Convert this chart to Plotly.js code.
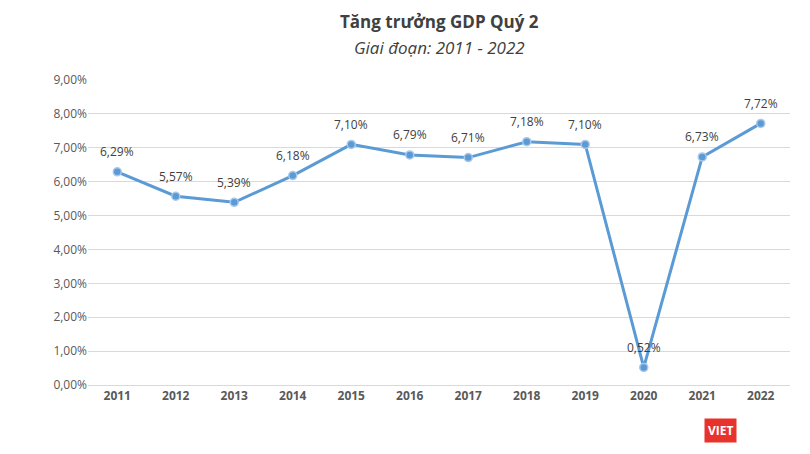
<!DOCTYPE html>
<html><head><meta charset="utf-8">
<script src="https://cdn.plot.ly/plotly-3.0.1.min.js"></script>
<style>body{margin:0}#plot{width:810px;height:454px}</style>
</head><body><div id="plot"></div>
<script>
var years = ["2011","2012","2013","2014","2015","2016","2017","2018","2019","2020","2021","2022"];
var growth = [6.29, 5.57, 5.39, 6.18, 7.10, 6.79, 6.71, 7.18, 7.10, 0.52, 6.73, 7.72];
var labels = growth.map(function(v){ return v.toFixed(2).replace(".", ",") + "%"; });

var trace = {
  x: years, y: growth, type: "scatter", mode: "lines+markers",
  line: {color: "#5b9bd5", width: 3},
  marker: {color: "#5b9bd5", size: 8, line: {color: "#a9c8ea", width: 1.5}},
  cliponaxis: false, hoverinfo: "none"
};

// annotations on a category axis take the category index
var notes = years.map(function(yr, i){
  return {x: i, y: growth[i], xref: "x", yref: "y", text: labels[i], showarrow: false,
    yshift: 20, font: {size: 12, color: "#404040"}};
});
notes.push(
  {text: "<b>Tăng trưởng GDP Quý 2</b>", xref: "paper", yref: "paper", x: 0.5, y: 1.235,
   showarrow: false, font: {size: 17, color: "#404040"}, xanchor: "center"},
  {text: "<i>Giai đoạn: 2011 - 2022</i>", xref: "paper", yref: "paper", x: 0.5, y: 1.15,
   showarrow: false, font: {size: 17, color: "#404040"}, xanchor: "center"},
  {text: "<b>VIET</b>", xref: "paper", yref: "paper", x: 0.925, y: -0.19,
   showarrow: false, bgcolor: "#e8322c", font: {size: 12, color: "#fff"}, borderpad: 3}
);

var layout = {
  width: 810, height: 454,
  margin: {l: 88, r: 20, t: 80, b: 69},
  paper_bgcolor: "#fff", plot_bgcolor: "#fff",
  showlegend: false,
  font: {family: "Open Sans, sans-serif", color: "#595959"},
  xaxis: {type: "category", range: [-0.5, 11.5], showgrid: false,
    showline: true, linecolor: "#d9d9d9", ticks: "",
    tickfont: {size: 12, color: "#595959", weight: "bold"}},
  yaxis: {range: [0, 9], showgrid: true, gridcolor: "#d9d9d9",
    zeroline: false, tickvals: [0,1,2,3,4,5,6,7,8,9],
    ticktext: ["0,00%","1,00%","2,00%","3,00%","4,00%","5,00%","6,00%","7,00%","8,00%","9,00%"],
    tickfont: {size: 12, color: "#595959"}},
  annotations: notes
};
Plotly.newPlot("plot", [trace], layout, {displayModeBar: false});
</script></body></html>
